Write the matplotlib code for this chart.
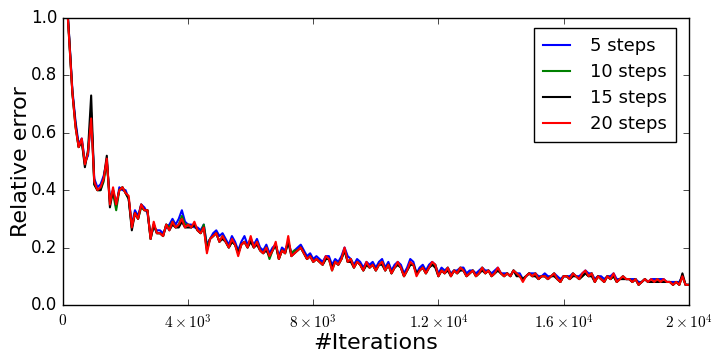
import numpy as np
import matplotlib
matplotlib.use("Agg")
import matplotlib.pyplot as plt
from matplotlib.ticker import FuncFormatter

# iterations sampled every 100 steps
iters = np.arange(100, 20001, 100)

err_5 = [
    1.10, 0.93, 0.75, 0.64, 0.56, 0.58, 0.50, 0.52, 0.66, 0.44,
    0.41, 0.42, 0.45, 0.50, 0.37, 0.40, 0.34, 0.41, 0.40, 0.40,
    0.37, 0.28, 0.33, 0.31, 0.35, 0.34, 0.32, 0.24, 0.27, 0.26,
    0.26, 0.25, 0.27, 0.28, 0.30, 0.28, 0.30, 0.33, 0.29, 0.28,
    0.28, 0.27, 0.27, 0.26, 0.28, 0.21, 0.23, 0.25, 0.26, 0.24,
    0.25, 0.23, 0.21, 0.24, 0.22, 0.19, 0.22, 0.24, 0.21, 0.23,
    0.21, 0.23, 0.20, 0.19, 0.21, 0.18, 0.20, 0.21, 0.17, 0.20,
    0.19, 0.22, 0.18, 0.19, 0.20, 0.21, 0.19, 0.17, 0.18, 0.16,
    0.17, 0.16, 0.15, 0.17, 0.17, 0.14, 0.16, 0.15, 0.17, 0.20,
    0.17, 0.16, 0.14, 0.16, 0.15, 0.13, 0.15, 0.14, 0.15, 0.13,
    0.15, 0.16, 0.13, 0.15, 0.12, 0.14, 0.15, 0.14, 0.11, 0.13,
    0.16, 0.15, 0.11, 0.13, 0.14, 0.12, 0.14, 0.15, 0.14, 0.11,
    0.13, 0.12, 0.13, 0.11, 0.12, 0.12, 0.13, 0.13, 0.11, 0.12,
    0.12, 0.11, 0.12, 0.13, 0.12, 0.12, 0.11, 0.12, 0.13, 0.11,
    0.11, 0.11, 0.10, 0.12, 0.11, 0.11, 0.09, 0.10, 0.11, 0.11,
    0.11, 0.10, 0.10, 0.11, 0.10, 0.10, 0.11, 0.10, 0.09, 0.10,
    0.10, 0.10, 0.11, 0.10, 0.10, 0.11, 0.12, 0.11, 0.11, 0.09,
    0.10, 0.10, 0.09, 0.10, 0.10, 0.11, 0.09, 0.09, 0.10, 0.09,
    0.09, 0.09, 0.09, 0.08, 0.08, 0.09, 0.08, 0.09, 0.09, 0.09,
    0.09, 0.09, 0.08, 0.08, 0.08, 0.08, 0.08, 0.10, 0.07, 0.07,
]

err_10 = [
    1.10, 0.92, 0.74, 0.62, 0.55, 0.57, 0.49, 0.53, 0.67, 0.42,
    0.40, 0.40, 0.43, 0.50, 0.36, 0.39, 0.33, 0.40, 0.41, 0.39,
    0.37, 0.27, 0.32, 0.30, 0.34, 0.33, 0.33, 0.23, 0.28, 0.25,
    0.25, 0.24, 0.28, 0.27, 0.29, 0.27, 0.28, 0.31, 0.28, 0.28,
    0.27, 0.28, 0.26, 0.25, 0.28, 0.20, 0.23, 0.24, 0.25, 0.22,
    0.24, 0.22, 0.20, 0.22, 0.21, 0.18, 0.21, 0.22, 0.20, 0.23,
    0.20, 0.22, 0.19, 0.18, 0.20, 0.16, 0.19, 0.21, 0.16, 0.19,
    0.18, 0.22, 0.18, 0.19, 0.19, 0.20, 0.18, 0.16, 0.17, 0.15,
    0.16, 0.15, 0.14, 0.16, 0.16, 0.12, 0.15, 0.14, 0.16, 0.19,
    0.15, 0.16, 0.13, 0.15, 0.14, 0.12, 0.14, 0.13, 0.14, 0.12,
    0.14, 0.15, 0.12, 0.14, 0.11, 0.13, 0.14, 0.13, 0.10, 0.12,
    0.14, 0.14, 0.11, 0.12, 0.13, 0.11, 0.13, 0.14, 0.14, 0.10,
    0.12, 0.11, 0.13, 0.10, 0.12, 0.11, 0.13, 0.12, 0.10, 0.11,
    0.12, 0.10, 0.11, 0.13, 0.11, 0.12, 0.10, 0.11, 0.12, 0.11,
    0.10, 0.11, 0.10, 0.12, 0.11, 0.10, 0.09, 0.10, 0.11, 0.10,
    0.11, 0.09, 0.10, 0.10, 0.09, 0.10, 0.11, 0.09, 0.08, 0.10,
    0.10, 0.09, 0.11, 0.10, 0.09, 0.10, 0.11, 0.10, 0.11, 0.08,
    0.10, 0.09, 0.08, 0.10, 0.09, 0.10, 0.08, 0.09, 0.10, 0.09,
    0.09, 0.08, 0.09, 0.07, 0.08, 0.09, 0.08, 0.08, 0.08, 0.09,
    0.08, 0.08, 0.08, 0.08, 0.07, 0.08, 0.07, 0.10, 0.07, 0.07,
]

err_15 = [
    1.10, 0.93, 0.74, 0.63, 0.55, 0.57, 0.48, 0.54, 0.73, 0.42,
    0.40, 0.40, 0.44, 0.52, 0.34, 0.40, 0.35, 0.40, 0.41, 0.39,
    0.37, 0.26, 0.32, 0.30, 0.35, 0.33, 0.33, 0.23, 0.28, 0.25,
    0.25, 0.24, 0.28, 0.26, 0.28, 0.27, 0.27, 0.29, 0.27, 0.27,
    0.27, 0.28, 0.26, 0.25, 0.27, 0.19, 0.23, 0.24, 0.25, 0.22,
    0.23, 0.22, 0.20, 0.22, 0.21, 0.18, 0.21, 0.22, 0.20, 0.22,
    0.20, 0.21, 0.19, 0.18, 0.19, 0.17, 0.19, 0.21, 0.16, 0.19,
    0.18, 0.22, 0.17, 0.18, 0.19, 0.20, 0.18, 0.16, 0.17, 0.15,
    0.16, 0.15, 0.14, 0.16, 0.16, 0.13, 0.15, 0.14, 0.16, 0.19,
    0.15, 0.15, 0.13, 0.15, 0.14, 0.12, 0.14, 0.13, 0.14, 0.12,
    0.14, 0.14, 0.12, 0.14, 0.11, 0.13, 0.14, 0.13, 0.10, 0.12,
    0.14, 0.14, 0.11, 0.12, 0.13, 0.11, 0.13, 0.14, 0.13, 0.10,
    0.12, 0.11, 0.12, 0.10, 0.12, 0.11, 0.12, 0.12, 0.10, 0.11,
    0.12, 0.10, 0.11, 0.12, 0.11, 0.12, 0.10, 0.11, 0.12, 0.11,
    0.10, 0.11, 0.10, 0.12, 0.10, 0.10, 0.09, 0.10, 0.11, 0.10,
    0.10, 0.09, 0.10, 0.10, 0.09, 0.10, 0.10, 0.09, 0.08, 0.10,
    0.10, 0.09, 0.10, 0.10, 0.09, 0.10, 0.11, 0.10, 0.10, 0.08,
    0.10, 0.09, 0.08, 0.10, 0.09, 0.10, 0.08, 0.09, 0.09, 0.09,
    0.09, 0.08, 0.09, 0.07, 0.08, 0.09, 0.08, 0.08, 0.08, 0.08,
    0.08, 0.08, 0.08, 0.08, 0.07, 0.08, 0.07, 0.11, 0.07, 0.07,
]

err_20 = [
    1.10, 0.92, 0.74, 0.62, 0.55, 0.58, 0.49, 0.53, 0.65, 0.43,
    0.40, 0.41, 0.44, 0.51, 0.35, 0.41, 0.35, 0.40, 0.41, 0.39,
    0.38, 0.27, 0.32, 0.30, 0.35, 0.33, 0.33, 0.23, 0.29, 0.25,
    0.25, 0.24, 0.28, 0.26, 0.29, 0.27, 0.28, 0.30, 0.27, 0.28,
    0.27, 0.29, 0.26, 0.25, 0.27, 0.18, 0.23, 0.24, 0.25, 0.22,
    0.24, 0.22, 0.20, 0.23, 0.21, 0.17, 0.21, 0.22, 0.20, 0.24,
    0.20, 0.22, 0.19, 0.18, 0.20, 0.17, 0.19, 0.22, 0.16, 0.19,
    0.18, 0.24, 0.17, 0.18, 0.19, 0.20, 0.18, 0.16, 0.17, 0.15,
    0.16, 0.15, 0.14, 0.17, 0.16, 0.12, 0.15, 0.14, 0.16, 0.20,
    0.15, 0.16, 0.13, 0.15, 0.14, 0.12, 0.15, 0.13, 0.14, 0.12,
    0.14, 0.15, 0.12, 0.14, 0.11, 0.13, 0.15, 0.13, 0.10, 0.12,
    0.15, 0.14, 0.10, 0.12, 0.13, 0.11, 0.13, 0.15, 0.14, 0.10,
    0.12, 0.11, 0.13, 0.10, 0.12, 0.11, 0.13, 0.12, 0.10, 0.11,
    0.12, 0.10, 0.11, 0.13, 0.11, 0.12, 0.10, 0.11, 0.13, 0.11,
    0.10, 0.11, 0.10, 0.12, 0.11, 0.10, 0.08, 0.10, 0.11, 0.10,
    0.11, 0.09, 0.10, 0.10, 0.09, 0.10, 0.11, 0.09, 0.08, 0.10,
    0.10, 0.09, 0.11, 0.10, 0.09, 0.11, 0.12, 0.10, 0.11, 0.08,
    0.10, 0.09, 0.08, 0.10, 0.09, 0.11, 0.08, 0.09, 0.10, 0.09,
    0.09, 0.08, 0.09, 0.07, 0.08, 0.09, 0.08, 0.09, 0.08, 0.09,
    0.08, 0.09, 0.08, 0.08, 0.07, 0.08, 0.07, 0.10, 0.07, 0.07,
]

labels = ['5 steps', '10 steps', '15 steps', '20 steps']
colors = ['b', 'g', 'k', 'r']
x_ticks = [0, 4000, 8000, 12000, 16000, 20000]
x_tick_labels = [r'$0$', r'$4\times10^{3}$', r'$8\times10^{3}$',
                 r'$1.2\times10^{4}$', r'$1.6\times10^{4}$', r'$2\times10^{4}$']

plt.style.use('classic')
plt.rcParams['mathtext.fontset'] = 'cm'

fig = plt.figure(figsize=(7.2, 3.6), dpi=100, facecolor='white')
ax = fig.add_axes([0.0875, 0.153, 0.869, 0.797])

for series, label, color in zip([err_5, err_10, err_15, err_20], labels, colors):
    ax.plot(iters, series, color=color, lw=1.5, label=label)

ax.set_xlim(0, 20000)
ax.set_ylim(0, 1.0)
ax.set_xticks(x_ticks)
ax.xaxis.set_major_formatter(FuncFormatter(lambda v, pos: x_tick_labels[pos] if pos is not None and pos < len(x_tick_labels) else ''))
ax.set_yticks(np.arange(0, 1.01, 0.2))
ax.tick_params(axis='x', labelsize=11, pad=6)
ax.tick_params(axis='y', labelsize=12)

ax.set_xlabel('#Iterations', fontsize=16, labelpad=1)
ax.set_ylabel('Relative error', fontsize=16, labelpad=0)

ax.legend(loc='upper right', bbox_to_anchor=(0.979, 0.965), borderaxespad=0,
          fontsize=13, numpoints=1, handlelength=1.5, handletextpad=1.1,
          borderpad=0.5, labelspacing=0.45, fancybox=False)

fig.savefig('out.png', dpi=100, facecolor='white')
